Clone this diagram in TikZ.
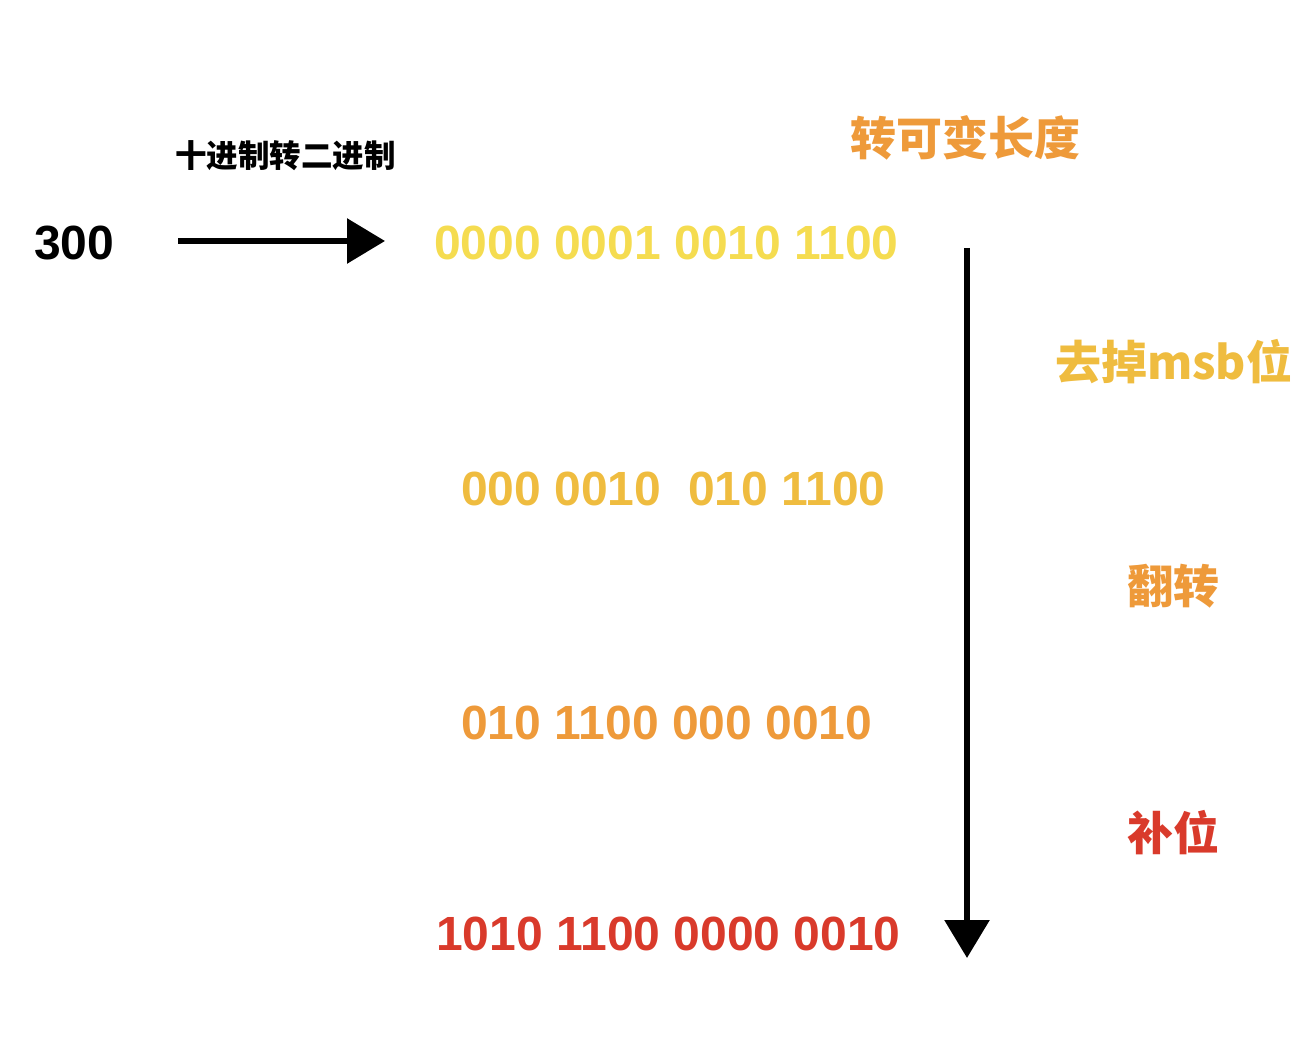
\documentclass[tikz,border=0pt]{standalone}
\usepackage{fontspec}
\setmainfont{Liberation Sans}
\newfontfamily\cjk{Noto Sans CJK SC}
\usetikzlibrary{arrows.meta}
\definecolor{cA}{HTML}{F5DC50}
\definecolor{cB}{HTML}{EFBC3F}
\definecolor{cC}{HTML}{EE9A3A}
\definecolor{cD}{HTML}{D93A2B}
\tikzset{num/.style={font=\fontsize{48}{52}\selectfont\bfseries,anchor=base west,inner sep=0pt},
 cn/.style={font=\cjk\bfseries\fontsize{46}{50}\selectfont,anchor=base west,inner sep=0pt},
 arr/.style={line width=6pt,-{Triangle[length=38pt,width=44pt]}}}
\begin{document}
\begin{tikzpicture}[x=1pt,y=-1pt]
\useasboundingbox (0,0) rectangle (1306,1064);
\node[num] (n300) at (34,260) {300};
\node[font=\cjk\bfseries\fontsize{31.5}{34}\selectfont,anchor=base west,inner sep=0pt] (t0) at (175,168) {十进制转二进制};
\node[num,text=cA] (b1) at (434,260) {0000 0001 0010 1100};
\node[num,text=cB] (b2) at (461,505) {000 0010\ \ 010 1100};
\node[num,text=cC] (b3) at (461,739) {010 1100 000 0010};
\node[num,text=cD] (b4) at (436,950) {1010 1100 0000 0010};
\node[cn,text=cC] (l1) at (850,156) {转可变长度};
\node[cn,text=cB] (l2) at (1055,380) {去掉msb位};
\node[cn,text=cC] (l3) at (1127,603) {翻转};
\node[cn,text=cD] (l4) at (1127,850) {补位};
\coordinate (h1) at (178,241); \coordinate (h2) at (385,241);
\coordinate (v1) at (967,248); \coordinate (v2) at (967,958);
\draw[arr] (h1) -- (h2);
\draw[arr] (v1) -- (v2);
\end{tikzpicture}
\end{document}
